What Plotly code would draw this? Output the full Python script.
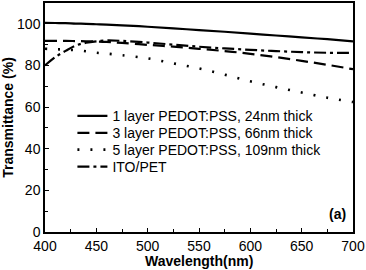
import plotly.graph_objects as go

wavelength = [400, 410, 420, 430, 440, 450, 460, 475, 500, 525, 550, 575, 600, 625, 650, 675, 700]
layer1 = [100.5, 100.4, 100.3, 100.1, 100.0, 99.8, 99.6, 99.3, 98.6, 97.8, 97.0, 96.2, 95.3, 94.4, 93.5, 92.6, 91.6]
layer3 = [91.8, 91.8, 91.8, 91.7, 91.6, 91.5, 91.3, 90.8, 89.9, 89.0, 88.0, 86.9, 85.6, 84.0, 82.2, 80.3, 78.2]
layer5 = [88.0, 87.8, 87.6, 87.3, 86.8, 86.1, 85.7, 84.9, 83.4, 81.0, 78.6, 75.6, 72.4, 69.6, 67.0, 64.5, 62.4]
ito = [80.0, 84.0, 87.0, 89.6, 90.9, 91.6, 92.0, 91.8, 91.0, 90.0, 89.0, 88.2, 87.5, 86.9, 86.4, 86.1, 86.0]

names = ["1 layer PEDOT:PSS, 24nm thick", "3 layer PEDOT:PSS, 66nm thick",
         "5 layer PEDOT:PSS, 109nm thick", "ITO/PET"]
series = [layer1, layer3, layer5, ito]
dashes = ["solid", "12px,6px", "2px,11px", "12px,4px,3px,4px"]
widths = [2.2, 2.2, 2.6, 2.2]

FONT = "Arial, Liberation Sans, sans-serif"
FS = 14

legend_ids = ["legend", "legend2", "legend3", "legend4"]
legend_rows_y = [0.505, 0.431, 0.358, 0.284]

fig = go.Figure()
for n, s, d, w, lg in zip(names, series, dashes, widths, legend_ids):
    fig.add_trace(go.Scatter(x=wavelength, y=s, name=n, mode="lines", legend=lg,
                             line=dict(color="black", width=w, dash=d, shape="spline")))

legend_layout = {}
for lg, ly in zip(legend_ids, legend_rows_y):
    legend_layout[lg] = dict(x=0.089, y=ly, xanchor="left", yanchor="middle",
                             bgcolor="rgba(0,0,0,0)", font=dict(size=FS, family=FONT),
                             itemwidth=30, borderwidth=0)

fig.update_layout(
    width=366, height=270,
    margin=dict(l=41, r=12, t=1, b=38),
    plot_bgcolor="white", paper_bgcolor="white",
    font=dict(family=FONT, size=FS, color="black"),
    showlegend=True,
    xaxis=dict(range=[400, 700], tickvals=[400, 450, 500, 550, 600, 650, 700],
               ticks="inside", ticklen=4, tickcolor="black", showgrid=False, zeroline=False,
               showline=True, linecolor="black", linewidth=1.5, mirror=True,
               minor=dict(tickvals=[425, 475, 525, 575, 625, 675], ticks="inside", ticklen=3, tickcolor="black"),
               tickfont=dict(size=FS, family=FONT)),
    yaxis=dict(range=[0, 110], tickvals=[0, 20, 40, 60, 80, 100],
               ticks="inside", ticklen=4, tickcolor="black", showgrid=False, zeroline=False,
               showline=True, linecolor="black", linewidth=1.5, mirror=True,
               minor=dict(tickvals=[10, 30, 50, 70, 90], ticks="inside", ticklen=3, tickcolor="black"),
               title=dict(text="<b>Transmittance (%)</b>", font=dict(size=FS, family=FONT), standoff=6),
               tickfont=dict(size=FS, family=FONT)),
    annotations=[
        dict(text="<b>(a)</b>", x=0.985, y=0.035, xref="paper", yref="paper",
             xanchor="right", yanchor="bottom", showarrow=False,
             font=dict(size=FS, family=FONT)),
        dict(text="<b>Wavelength(nm)</b>", x=0.5, y=-0.125, xref="paper", yref="paper",
             xanchor="center", yanchor="middle", showarrow=False,
             font=dict(size=FS, family=FONT)),
    ],
    **legend_layout,
)

fig.write_html("out.html", config={"displayModeBar": False},
               post_script="document.body.style.margin='0';document.body.style.padding='0';")
